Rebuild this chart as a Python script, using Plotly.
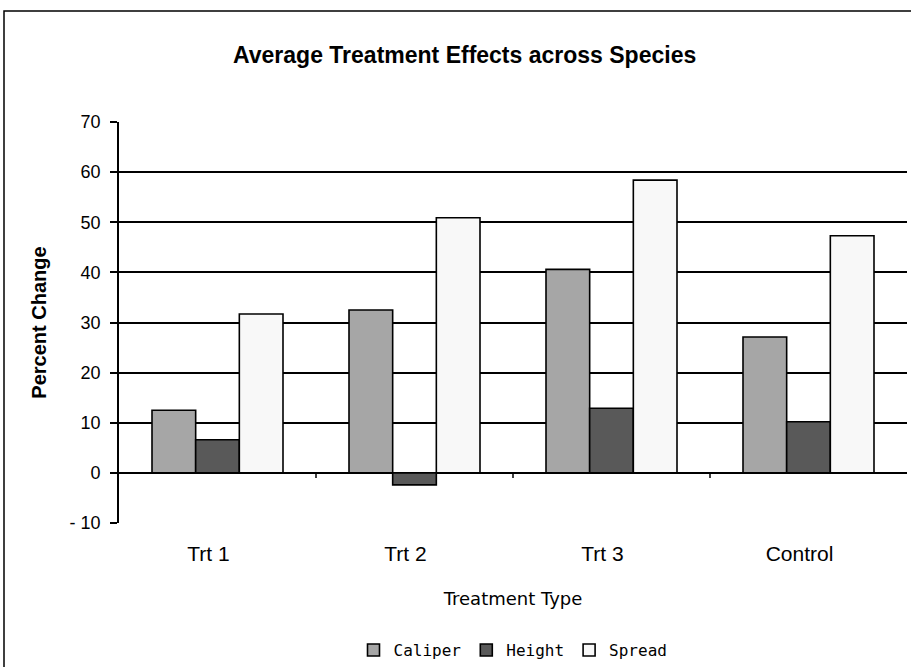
import plotly.graph_objects as go

categories = ["Trt 1", "Trt 2", "Trt 3", "Control"]
caliper = [12.5, 32.5, 40.6, 27.1]
height = [6.6, -2.4, 12.9, 10.2]
spread = [31.7, 50.9, 58.4, 47.3]
y_ticks = [-10, 0, 10, 20, 30, 40, 50, 60, 70]
y_tick_text = ["- 10", "0", "10", "20", "30", "40", "50", "60", "70"]

series = [("Caliper", caliper, "#a6a6a6"), ("Height", height, "#595959"), ("Spread", spread, "#f8f8f8")]

sans = "Liberation Sans, Arial, sans-serif"

fig = go.Figure()
for name, vals, col in series:
    fig.add_trace(go.Bar(x=categories, y=vals, name=name, marker=dict(color=col, line=dict(color="black", width=1.6))))

L, R, T, B = 119, 4, 122, 144
W = 911 - L - R
H = 667 - T - B

shapes = []
# outer chart border
shapes.append(dict(type="rect", xref="paper", yref="paper",
                   x0=(4 - L) / W, x1=(915 - L) / W, y0=(667 - B - 700) / H, y1=1 + (T - 11) / H,
                   line=dict(color="black", width=1.5), layer="below"))
# category separator ticks on the zero axis
for i in range(len(categories) - 1):
    shapes.append(dict(type="line", xref="x", yref="y", x0=i + 0.5, x1=i + 0.5, y0=0, y1=-1.0,
                       line=dict(color="black", width=1.5)))

fig.update_layout(
    width=911, height=667,
    margin=dict(l=L, r=R, t=T, b=B, autoexpand=False),
    paper_bgcolor="white", plot_bgcolor="white",
    barmode="group", bargap=0.335, bargroupgap=0,
    title=dict(text="<b>Average Treatment Effects across Species</b>", x=0.51, xanchor="center",
               y=1 - 55 / 667, yanchor="middle", font=dict(family=sans, size=23, color="black")),
    font=dict(family=sans, color="black"),
    showlegend=True,
    legend=dict(orientation="h", x=0.50, xanchor="center", y=-0.317, yanchor="middle",
                font=dict(family="DejaVu Sans Mono, monospace", size=16, color="black"),
                itemwidth=30, tracegroupgap=0, traceorder="normal"),
    shapes=shapes,
)
fig.update_xaxes(showgrid=False, showline=False, ticks="", zeroline=False,
                 tickfont=dict(family=sans, size=21), ticklabelstandoff=16, ticklabelshift=-9,
                 title=dict(text="Treatment Type", font=dict(family="DejaVu Sans, sans-serif", size=18), standoff=28))
fig.update_yaxes(range=[-10, 70], tickvals=y_ticks, ticktext=y_tick_text, showgrid=True, gridcolor="black", gridwidth=1.6,
                 showline=True, linecolor="black", linewidth=1.6, ticks="outside", ticklen=7, tickcolor="black",
                 tickwidth=1.6, zeroline=True, zerolinecolor="black", zerolinewidth=1.6,
                 tickfont=dict(family=sans, size=18), ticklabelstandoff=6,
                 title=dict(text="<b>Percent Change</b>", font=dict(family=sans, size=20), standoff=18))

fig.write_html("out.html")
